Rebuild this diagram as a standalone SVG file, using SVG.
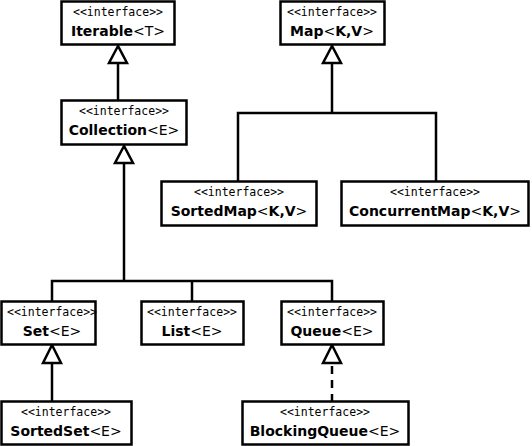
<svg xmlns="http://www.w3.org/2000/svg" width="532" height="446" viewBox="0 0 532 446">
<style>
.box{fill:#fff;stroke:#000;stroke-width:2.5}
.st{font-family:"DejaVu Sans Mono",monospace;font-size:11.5px;text-anchor:middle;fill:#000}
.nm{font-family:"DejaVu Sans",sans-serif;font-size:14px;text-anchor:middle;fill:#000}
.b{font-weight:bold}
.ln{fill:none;stroke:#000;stroke-width:2.5}
.ds{fill:none;stroke:#000;stroke-width:2.5;stroke-dasharray:8,6}
.hd{fill:#fff;stroke:#000;stroke-width:2.5;stroke-linejoin:miter}
</style>
<rect width="532" height="446" fill="#fff"/>
<g id="connectors">
<polyline class="ln" points="118,63 118,100"/>
<polygon class="hd" points="118,46 109,63 127,63"/>
<polyline class="ln" points="124,163 124,281"/>
<polygon class="hd" points="124,146 115,163 133,163"/>
<polyline class="ln" points="52,301 52,281 332,281 332,301"/>
<polyline class="ln" points="192,281 192,301"/>
<polyline class="ln" points="332,63 332,113"/>
<polygon class="hd" points="332,46 323,63 341,63"/>
<polyline class="ln" points="238,181 238,113 436,113 436,181"/>
<polyline class="ln" points="52,363 52,401"/>
<polygon class="hd" points="52,345 43,363 61,363"/>
<polyline class="ds" points="332,366 332,401"/>
<polygon class="hd" points="332,345 323,363 341,363"/>
</g>
<g id="iterable"><rect class="box" x="61.5" y="1.5" width="113" height="43"/><text class="st" x="118" y="16">&lt;&lt;interface&gt;&gt;</text><text class="nm" x="118" y="36"><tspan class="b">Iterable</tspan>&lt;T&gt;</text></g>
<g id="collection"><rect class="box" x="61.5" y="100.5" width="125" height="44"/><text class="st" x="124" y="115">&lt;&lt;interface&gt;&gt;</text><text class="nm" x="124" y="135"><tspan class="b">Collection</tspan>&lt;E&gt;</text></g>
<g id="map"><rect class="box" x="280.5" y="1.5" width="104" height="43"/><text class="st" x="332" y="16">&lt;&lt;interface&gt;&gt;</text><text class="nm" x="332" y="36"><tspan class="b">Map</tspan>&lt;<tspan class="b">K,V</tspan>&gt;</text></g>
<g id="sortedmap"><rect class="box" x="161.5" y="181.5" width="155" height="44"/><text class="st" x="239" y="196">&lt;&lt;interface&gt;&gt;</text><text class="nm" x="239" y="216"><tspan class="b">SortedMap</tspan>&lt;<tspan class="b">K,V</tspan>&gt;</text></g>
<g id="concurrentmap"><rect class="box" x="341.5" y="181.5" width="187" height="44"/><text class="st" x="435" y="196">&lt;&lt;interface&gt;&gt;</text><text class="nm" x="435" y="216"><tspan class="b">ConcurrentMap</tspan>&lt;<tspan class="b">K,V</tspan>&gt;</text></g>
<g id="set"><rect class="box" x="1.5" y="301.5" width="94" height="43"/><text class="st" x="52" y="316">&lt;&lt;interface&gt;&gt;</text><text class="nm" x="52" y="336"><tspan class="b">Set</tspan>&lt;E&gt;</text></g>
<g id="list"><rect class="box" x="141.5" y="301.5" width="102" height="43"/><text class="st" x="192" y="316">&lt;&lt;interface&gt;&gt;</text><text class="nm" x="192" y="336"><tspan class="b">List</tspan>&lt;E&gt;</text></g>
<g id="queue"><rect class="box" x="281.5" y="301.5" width="102" height="43"/><text class="st" x="332" y="316">&lt;&lt;interface&gt;&gt;</text><text class="nm" x="332" y="336"><tspan class="b">Queue</tspan>&lt;E&gt;</text></g>
<g id="sortedset"><rect class="box" x="1.5" y="401.5" width="130" height="43"/><text class="st" x="66" y="416">&lt;&lt;interface&gt;&gt;</text><text class="nm" x="66" y="436"><tspan class="b">SortedSet</tspan>&lt;E&gt;</text></g>
<g id="blockingqueue"><rect class="box" x="242.5" y="401.5" width="166" height="43"/><text class="st" x="325" y="416">&lt;&lt;interface&gt;&gt;</text><text class="nm" x="325" y="436"><tspan class="b">BlockingQueue</tspan>&lt;E&gt;</text></g>
</svg>
